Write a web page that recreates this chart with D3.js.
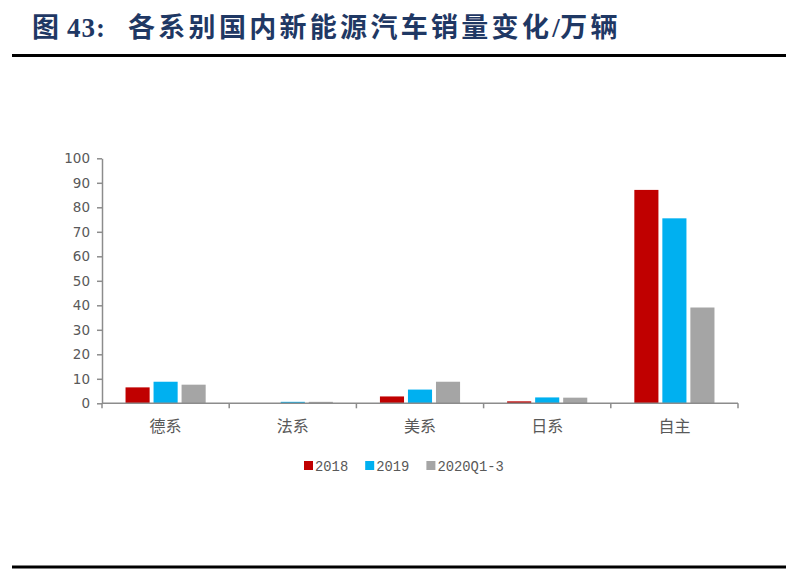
<!DOCTYPE html>
<html>
<head>
<meta charset="utf-8">
<script src="https://cdn.jsdelivr.net/npm/d3@7"></script>
<style>
  body { margin: 0; background: #fff; }
  svg { display: block; }
</style>
</head>
<body>
<div id="app"></div>
<script>
const OUTER = { width: 796, height: 573 }
const PLOT = { left: 102, right: 738, top: 158.3, bottom: 403.3 }

const TITLE_PARTS = ["图", "43:", "各系别国内新能源汽车销量变化", "/", "万辆"]
const categories = ["德系", "法系", "美系", "日系", "自主"]
const seriesNames = ["2018", "2019", "2020Q1-3"]
const sales2018 = [6.5, 0, 2.8, 0.8, 87.1]
const sales2019 = [8.8, 0.6, 5.6, 2.4, 75.5]
const sales2020 = [7.6, 0.6, 8.8, 2.3, 39.1]
const yTicks = [0, 10, 20, 30, 40, 50, 60, 70, 80, 90, 100]

const COLORS = ["#C00000", "#00B0F0", "#A5A5A5"]
const AXIS_COLOR = "#8C8C8C"
const TEXT_COLOR = "#595959"

const seriesValues = [sales2018, sales2019, sales2020]

const rows = categories.map((c, i) => ({
  category: c,
  values: seriesNames.map((s, j) => ({ series: s, value: seriesValues[j][i], idx: j }))
}))

const svg = d3.select('#app')
  .append('svg')
  .attr('width', OUTER.width)
  .attr('height', OUTER.height);

// title + rules
const title = svg.append('text')
  .attr('y', 37)
  .attr('fill', '#1F3864')
  .attr('font-family', '"Liberation Serif", "Noto Sans CJK SC", serif')
  .attr('font-weight', 'bold')
  .attr('font-size', 27);

title.append('tspan').attr('x', 32).text(TITLE_PARTS[0]);
title.append('tspan').attr('x', 67).attr('letter-spacing', 1).text(TITLE_PARTS[1]);
title.append('tspan').attr('x', 128).attr('letter-spacing', 3.3).text(TITLE_PARTS[2]);
title.append('tspan').attr('letter-spacing', 0.5).text(TITLE_PARTS[3]);
title.append('tspan').attr('letter-spacing', 3.3).text(TITLE_PARTS[4]);

svg.append('line')
  .attr('x1', 12).attr('x2', 786)
  .attr('y1', 55.5).attr('y2', 55.5)
  .attr('stroke', '#000').attr('stroke-width', 3);

svg.append('line')
  .attr('x1', 12).attr('x2', 786)
  .attr('y1', 567).attr('y2', 567)
  .attr('stroke', '#000').attr('stroke-width', 3);

// scales
const x0 = d3.scaleBand()
  .domain(categories)
  .range([PLOT.left, PLOT.right])
  .paddingInner(0.37)
  .paddingOuter(0.185);

const x1 = d3.scaleBand()
  .domain(seriesNames)
  .range([0, x0.bandwidth()])
  .paddingInner(0.14);

const yScale = d3.scaleLinear()
  .domain([0, 100])
  .range([PLOT.bottom, PLOT.top]);

// bars
const groups = svg.append('g')
  .selectAll('g')
  .data(rows)
  .join('g')
  .attr('transform', d => `translate(${x0(d.category)},0)`);

groups.selectAll('rect')
  .data(d => d.values)
  .join('rect')
  .attr('x', d => x1(d.series))
  .attr('width', x1.bandwidth())
  .attr('y', d => yScale(d.value))
  .attr('height', d => PLOT.bottom - yScale(d.value))
  .attr('fill', d => COLORS[d.idx]);

// y axis
const yAxis = svg.append('g')
  .attr('transform', `translate(${PLOT.left},0)`)
  .call(d3.axisLeft(yScale).tickValues(yTicks).tickSize(5).tickPadding(7).tickSizeOuter(0));

yAxis.select('.domain').attr('stroke', AXIS_COLOR).attr('stroke-width', 1.5);
yAxis.selectAll('.tick line').attr('stroke', AXIS_COLOR).attr('stroke-width', 1.5);
yAxis.selectAll('.tick text')
  .attr('fill', TEXT_COLOR)
  .attr('font-family', '"DejaVu Sans", sans-serif')
  .attr('font-size', 13.5);

// x axis: ticks on category boundaries
const boundaries = categories.map(c => x0(c) - x0.step() * x0.paddingOuter())
boundaries.push(PLOT.right)

const xAxis = svg.append('g')
xAxis.append('line')
  .attr('x1', PLOT.left).attr('x2', PLOT.right)
  .attr('y1', PLOT.bottom).attr('y2', PLOT.bottom)
  .attr('stroke', AXIS_COLOR).attr('stroke-width', 1.5);

xAxis.selectAll('.bt')
  .data(boundaries)
  .join('line')
  .attr('class', 'bt')
  .attr('x1', d => d).attr('x2', d => d)
  .attr('y1', PLOT.bottom).attr('y2', PLOT.bottom + 5)
  .attr('stroke', AXIS_COLOR).attr('stroke-width', 1.5);

xAxis.selectAll('.cat')
  .data(categories)
  .join('text')
  .attr('class', 'cat')
  .attr('x', d => x0(d) + x0.bandwidth() / 2)
  .attr('y', 432)
  .attr('text-anchor', 'middle')
  .attr('fill', TEXT_COLOR)
  .attr('font-family', '"Noto Sans CJK SC", sans-serif')
  .attr('font-size', 16)
  .text(d => d);

// legend
const legend = svg.append('g')
let lx = 304
seriesNames.forEach((s, i) => {
  legend.append('rect')
    .attr('x', lx).attr('y', 461)
    .attr('width', 9).attr('height', 9)
    .attr('fill', COLORS[i]);
  legend.append('text')
    .attr('x', lx + 11)
    .attr('y', 470.5)
    .attr('fill', TEXT_COLOR)
    .attr('font-family', '"Liberation Mono", monospace')
    .attr('font-size', 15)
    .attr('textLength', s.length * 8.3)
    .attr('lengthAdjust', 'spacingAndGlyphs')
    .text(s);
  lx += 11 + s.length * 8.3 + 17;
});
</script>
</body>
</html>
